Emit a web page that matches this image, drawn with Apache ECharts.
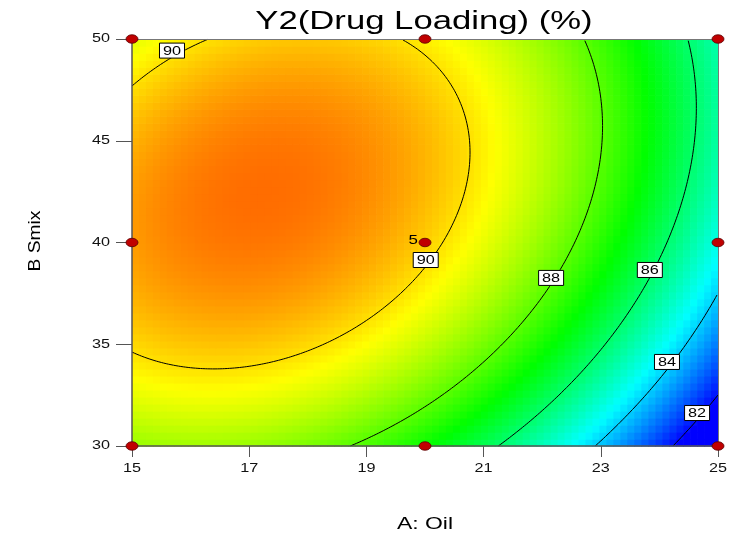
<!DOCTYPE html>
<html>
<head>
<meta charset="utf-8">
<title>Y2(Drug Loading) (%)</title>
<script src="https://cdn.jsdelivr.net/npm/echarts@6/dist/echarts.min.js"></script>
<style>
  html, body { margin: 0; padding: 0; background: #fff; }
  #chart { width: 734px; height: 541px; }
</style>
</head>
<body>
<div id="chart"></div>
<script>
// ---- Factor ranges and axis ticks ----
const oilRange = [15, 25];          // A: Oil
const smixRange = [30, 50];         // B: Smix
const oilTicks = [15, 17, 19, 21, 23, 25];
const smixTicks = [30, 35, 40, 45, 50];

// ---- Fitted quadratic response model (coded factors) ----
// terms: intercept, A, B, AB, A^2, B^2
const modelCoefficients = [90.19, -3.01, 1.35, 0.96, -2.50, -1.69];

// ---- Contour levels drawn on the surface ----
const contourLevels = [82, 84, 86, 88, 90];

// ---- Design points (3x3 factorial) and centre replicates ----
const designOil = [15, 20, 25];
const designSmix = [30, 40, 50];
const centerReplicates = 5;

// ---- Colour scale for the response ----
const colorScaleRange = [81.9, 92.3];
const colorScale = ['#0000ff', '#00ffff', '#00ff00', '#ffff00', '#ff0000'];

const FONT = '"Liberation Sans", Arial, Helvetica, sans-serif';
const TEXT_STRETCH = 1.35;

function coded(v, range) {
  const mid = (range[0] + range[1]) / 2, half = (range[1] - range[0]) / 2;
  return (v - mid) / half;
}
function drugLoading(oil, smix) {
  const a = coded(oil, oilRange), b = coded(smix, smixRange);
  const c = modelCoefficients;
  return c[0] + c[1] * a + c[2] * b + c[3] * a * b + c[4] * a * a + c[5] * b * b;
}

// ---- Surface cells ----
const NX = 84, NY = 58;
const cellW = (oilRange[1] - oilRange[0]) / NX;
const cellH = (smixRange[1] - smixRange[0]) / NY;
const surfaceCells = [];
for (let j = 0; j < NY; j++) {
  for (let i = 0; i < NX; i++) {
    const x = oilRange[0] + (i + 0.5) * cellW;
    const y = smixRange[0] + (j + 0.5) * cellH;
    surfaceCells.push([x, y, drugLoading(x, y)]);
  }
}

// ---- Marching squares contour tracing ----
function tracePaths(level) {
  const nx = 240, ny = 240;
  const xs = [], ys = [];
  for (let i = 0; i <= nx; i++) xs.push(oilRange[0] + (oilRange[1] - oilRange[0]) * i / nx);
  for (let j = 0; j <= ny; j++) ys.push(smixRange[0] + (smixRange[1] - smixRange[0]) * j / ny);
  const val = [];
  for (let j = 0; j <= ny; j++) { val.push([]); for (let i = 0; i <= nx; i++) val[j].push(drugLoading(xs[i], ys[j])); }

  const points = new Map();
  function edgeKey(kind, i, j) {
    const key = kind + ',' + i + ',' + j;
    if (!points.has(key)) {
      let p;
      if (kind === 'h') { // between (i,j) and (i+1,j)
        const v0 = val[j][i], v1 = val[j][i + 1];
        const t = (level - v0) / (v1 - v0);
        p = [xs[i] + t * (xs[i + 1] - xs[i]), ys[j]];
      } else {            // between (i,j) and (i,j+1)
        const v0 = val[j][i], v1 = val[j + 1][i];
        const t = (level - v0) / (v1 - v0);
        p = [xs[i], ys[j] + t * (ys[j + 1] - ys[j])];
      }
      points.set(key, p);
    }
    return key;
  }
  const adj = new Map();
  function link(a, b) {
    if (!adj.has(a)) adj.set(a, []);
    if (!adj.has(b)) adj.set(b, []);
    adj.get(a).push(b); adj.get(b).push(a);
  }
  for (let j = 0; j < ny; j++) {
    for (let i = 0; i < nx; i++) {
      const c0 = val[j][i] >= level, c1 = val[j][i + 1] >= level;
      const c2 = val[j + 1][i + 1] >= level, c3 = val[j + 1][i] >= level;
      const e = [];
      e[0] = c0 !== c1 ? edgeKey('h', i, j) : null;
      e[1] = c1 !== c2 ? edgeKey('v', i + 1, j) : null;
      e[2] = c3 !== c2 ? edgeKey('h', i, j + 1) : null;
      e[3] = c0 !== c3 ? edgeKey('v', i, j) : null;
      const hits = e.filter(k => k !== null);
      if (hits.length === 2) link(hits[0], hits[1]);
      else if (hits.length === 4) {
        const centre = (val[j][i] + val[j][i + 1] + val[j + 1][i + 1] + val[j + 1][i]) / 4 >= level;
        if (centre === c0) { link(e[0], e[1]); link(e[2], e[3]); }
        else { link(e[3], e[0]); link(e[1], e[2]); }
      }
    }
  }
  const visited = new Set();
  const keys = [...adj.keys()];
  const starts = keys.filter(k => adj.get(k).length === 1).concat(keys);
  const paths = [];
  for (const s of starts) {
    if (visited.has(s)) continue;
    const path = [s];
    visited.add(s);
    let cur = s;
    for (;;) {
      const next = adj.get(cur).find(k => !visited.has(k));
      if (next === undefined) break;
      visited.add(next); path.push(next); cur = next;
    }
    if (adj.get(cur).includes(s) && path.length > 2) path.push(s);
    paths.push(path.map(k => points.get(k)));
  }
  return paths;
}

// ---- Contour label placement: on the line, along a given Smix row ----
function crossingsAlongRow(level, smix) {
  const n = 2000, out = [];
  let px = oilRange[0], pv = drugLoading(px, smix) - level;
  for (let k = 1; k <= n; k++) {
    const x = oilRange[0] + (oilRange[1] - oilRange[0]) * k / n;
    const v = drugLoading(x, smix) - level;
    if ((pv < 0) !== (v < 0)) out.push(px + (x - px) * pv / (pv - v));
    px = x; pv = v;
  }
  return out;
}
const labelPlacement = [
  { level: 90, row: 49.43, branch: 'first', shift: -12 },
  { level: 90, row: 39.14, branch: 'last',  shift: -5 },
  { level: 88, row: 38.26, branch: 'last',  shift: -4 },
  { level: 86, row: 38.65, branch: 'last',  shift: -4 },
  { level: 84, row: 34.13, branch: 'last',  shift: -6 },
  { level: 82, row: 31.62, branch: 'last',  shift: -6 }
];
const contourLabelData = labelPlacement.map(p => {
  const xs = crossingsAlongRow(p.level, p.row);
  const x = p.branch === 'first' ? xs[0] : xs[xs.length - 1];
  return [x, p.row, p.level, p.shift];
});

// ---- Series ----
const series = [];

series.push({
  type: 'custom',
  name: 'surface',
  coordinateSystem: 'cartesian2d',
  clip: true,
  silent: true,
  z: 1,
  data: surfaceCells,
  encode: { x: 0, y: 1 },
  renderItem: function (params, api) {
    const p = api.coord([api.value(0), api.value(1)]);
    const s = api.size([cellW, cellH]);
    return {
      type: 'rect',
      shape: { x: p[0] - s[0] / 2, y: p[1] - s[1] / 2, width: s[0] + 0.7, height: s[1] + 0.7 },
      style: { fill: api.visual('color') }
    };
  }
});

contourLevels.forEach(level => {
  tracePaths(level).forEach(path => {
    series.push({
      type: 'line',
      name: 'contour ' + level,
      data: path,
      showSymbol: false,
      symbol: 'none',
      clip: true,
      silent: true,
      z: 3,
      lineStyle: { color: '#000', width: 1 }
    });
  });
});

series.push({
  type: 'custom',
  name: 'contour labels',
  coordinateSystem: 'cartesian2d',
  silent: true,
  z: 4,
  data: contourLabelData,
  encode: { x: 0, y: 1 },
  renderItem: function (params, api) {
    const p = api.coord([api.value(0), api.value(1)]);
    return {
      type: 'group',
      x: p[0] + api.value(3),
      y: p[1],
      children: [
        { type: 'rect', shape: { x: -12.5, y: -7.5, width: 25, height: 15 },
          style: { fill: '#fff', stroke: '#000', lineWidth: 1 } },
        { type: 'text', x: 0, y: 0.5, scaleX: 1.3,
          style: { text: String(api.value(2)), font: '12.5px ' + FONT,
                   align: 'center', verticalAlign: 'middle',
                   textAlign: 'center', textVerticalAlign: 'middle', fill: '#000' } }
      ]
    };
  }
});

const designPoints = [];
designOil.forEach(a => designSmix.forEach(b => designPoints.push([a, b])));
series.push({
  type: 'scatter',
  name: 'design points',
  data: designPoints,
  symbol: 'circle',
  symbolSize: [12, 8.5],
  clip: false,
  silent: true,
  z: 10,
  itemStyle: { color: '#c00000', borderColor: '#5a0000', borderWidth: 0.8, opacity: 1 }
});

const centerPoint = [(designOil[0] + designOil[2]) / 2, (designSmix[0] + designSmix[2]) / 2];
series.push({
  type: 'custom',
  name: 'replicates',
  coordinateSystem: 'cartesian2d',
  silent: true,
  z: 11,
  data: [[centerPoint[0], centerPoint[1], centerReplicates]],
  encode: { x: 0, y: 1 },
  renderItem: function (params, api) {
    const p = api.coord([api.value(0), api.value(1)]);
    return { type: 'text', x: p[0] - 7, y: p[1] - 2, scaleX: 1.3,
      style: { text: String(api.value(2)), font: '13px ' + FONT,
               align: 'right', verticalAlign: 'middle',
               textAlign: 'right', textVerticalAlign: 'middle', fill: '#000' } };
  }
});

// Tick labels, stretched to the figure's wide lettering
series.push({
  type: 'custom',
  name: 'oil ticks',
  coordinateSystem: 'cartesian2d',
  silent: true,
  z: 6,
  data: oilTicks.map(v => [v, smixRange[0]]),
  encode: { x: 0, y: 1 },
  renderItem: function (params, api) {
    const p = api.coord([api.value(0), api.value(1)]);
    return { type: 'text', x: p[0], y: p[1] + 23, scaleX: TEXT_STRETCH,
      style: { text: String(api.value(0)), font: '12px ' + FONT,
               align: 'center', verticalAlign: 'middle',
               textAlign: 'center', textVerticalAlign: 'middle', fill: '#111' } };
  }
});
series.push({
  type: 'custom',
  name: 'smix ticks',
  coordinateSystem: 'cartesian2d',
  silent: true,
  z: 6,
  data: smixTicks.map(v => [oilRange[0], v]),
  encode: { x: 0, y: 1 },
  renderItem: function (params, api) {
    const p = api.coord([api.value(0), api.value(1)]);
    return { type: 'text', x: p[0] - 22, y: p[1], scaleX: TEXT_STRETCH,
      style: { text: String(api.value(1)), font: '12px ' + FONT,
               align: 'right', verticalAlign: 'middle',
               textAlign: 'right', textVerticalAlign: 'middle', fill: '#111' } };
  }
});

const axisGray = '#555';
const option = {
  animation: false,
  backgroundColor: '#fff',
  grid: { left: 132, right: 16, top: 39, bottom: 95, containLabel: false },
  visualMap: {
    type: 'continuous', show: false, seriesIndex: 0, dimension: 2,
    min: colorScaleRange[0], max: colorScaleRange[1],
    inRange: { color: colorScale }
  },
  xAxis: [
    { type: 'value', min: oilRange[0], max: oilRange[1], interval: 2, z: 5,
      axisLine: { show: true, onZero: false, lineStyle: { color: axisGray, width: 1.5 } },
      axisTick: { show: true, length: 11, lineStyle: { color: axisGray, width: 1 } },
      axisLabel: { show: false }, splitLine: { show: false } },
    { type: 'value', position: 'top', min: oilRange[0], max: oilRange[1], z: 5,
      axisLine: { show: true, onZero: false, lineStyle: { color: '#777', width: 1 } },
      axisTick: { show: false }, axisLabel: { show: false }, splitLine: { show: false } }
  ],
  yAxis: [
    { type: 'value', min: smixRange[0], max: smixRange[1], interval: 5, z: 5,
      axisLine: { show: true, onZero: false, lineStyle: { color: axisGray, width: 1.5 } },
      axisTick: { show: true, length: 16, lineStyle: { color: axisGray, width: 1 } },
      axisLabel: { show: false }, splitLine: { show: false } },
    { type: 'value', position: 'right', min: smixRange[0], max: smixRange[1], z: 5,
      axisLine: { show: true, onZero: false, lineStyle: { color: '#777', width: 1 } },
      axisTick: { show: false }, axisLabel: { show: false }, splitLine: { show: false } }
  ],
  graphic: [
    { type: 'text', x: 424, y: 22, scaleX: 1.36, silent: true,
      style: { text: 'Y2(Drug Loading) (%)', font: '25.5px ' + FONT,
               align: 'center', verticalAlign: 'middle',
               textAlign: 'center', textVerticalAlign: 'middle', fill: '#000' } },
    { type: 'text', x: 425, y: 524, scaleX: TEXT_STRETCH, silent: true,
      style: { text: 'A: Oil', font: '17px ' + FONT,
               align: 'center', verticalAlign: 'middle',
               textAlign: 'center', textVerticalAlign: 'middle', fill: '#000' } },
    { type: 'text', x: 36, y: 241, rotation: Math.PI / 2, scaleX: 1.2, silent: true,
      style: { text: 'B Smix', font: '16px ' + FONT,
               align: 'center', verticalAlign: 'middle',
               textAlign: 'center', textVerticalAlign: 'middle', fill: '#000' } }
  ],
  series: series
};

const chart = echarts.init(document.getElementById('chart'), null, { renderer: 'canvas' });
chart.setOption(option);
</script>
</body>
</html>
